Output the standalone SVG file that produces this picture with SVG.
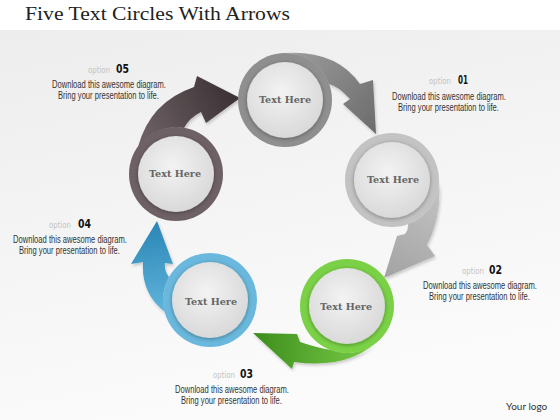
<svg xmlns="http://www.w3.org/2000/svg" width="560" height="420" viewBox="0 0 560 420">
<defs>
<style>
.title{font-family:"Liberation Serif",serif;font-size:19px;fill:#222}
.th{font-family:"DejaVu Serif",serif;font-weight:bold;font-size:9.5px;fill:#666}
.opt{font-family:"DejaVu Sans Condensed","DejaVu Sans",sans-serif;font-stretch:condensed;font-size:9px;fill:#c4c4c4}
.num{font-family:"DejaVu Sans Condensed","DejaVu Sans",sans-serif;font-stretch:condensed;font-weight:bold;font-size:13px;fill:#111}
.desc{font-family:"Liberation Sans",Arial,sans-serif;font-size:10px;fill:#333}
.logo{font-family:Lato,"Liberation Sans",sans-serif;font-size:10px;fill:#333}
.inner{fill:url(#gIn);filter:url(#sh)}
</style>
<linearGradient id="bg" x1="0" y1="0" x2="0.3" y2="1">
<stop offset="0" stop-color="#ededed"/><stop offset="1" stop-color="#fbfbfb"/>
</linearGradient>
<radialGradient id="gIn" cx="0.45" cy="0.4" r="0.6">
<stop offset="0" stop-color="#f3f3f3"/><stop offset="1" stop-color="#d9d9d9"/>
</radialGradient>
<filter id="sh" x="-20%" y="-20%" width="140%" height="140%">
<feDropShadow dx="0" dy="1" stdDeviation="2" flood-color="#000" flood-opacity="0.35"/>
</filter>
<filter id="ash" x="-20%" y="-20%" width="140%" height="140%">
<feDropShadow dx="1" dy="2" stdDeviation="1.5" flood-color="#000" flood-opacity="0.2"/>
</filter>
<linearGradient id="a1" x1="285" y1="60" x2="375" y2="130" gradientUnits="userSpaceOnUse">
<stop offset="0" stop-color="#9c9c9c"/><stop offset="1" stop-color="#6c6c6c"/>
</linearGradient>
<linearGradient id="a2" x1="440" y1="185" x2="390" y2="275" gradientUnits="userSpaceOnUse">
<stop offset="0" stop-color="#c4c4c4"/><stop offset="1" stop-color="#a4a4a4"/>
</linearGradient>
<linearGradient id="a3" x1="385" y1="340" x2="255" y2="340" gradientUnits="userSpaceOnUse">
<stop offset="0" stop-color="#7fd24a"/><stop offset="1" stop-color="#3e8e1e"/>
</linearGradient>
<linearGradient id="a4" x1="165" y1="310" x2="155" y2="222" gradientUnits="userSpaceOnUse">
<stop offset="0" stop-color="#5fb3da"/><stop offset="1" stop-color="#2a86b6"/>
</linearGradient>
<linearGradient id="a5" x1="150" y1="140" x2="240" y2="98" gradientUnits="userSpaceOnUse">
<stop offset="0" stop-color="#6a5e62"/><stop offset="1" stop-color="#3a3033"/>
</linearGradient>
</defs>
<rect x="0" y="0" width="560" height="420" fill="#ffffff"/>
<rect x="0" y="30" width="560" height="390" fill="url(#bg)"/>
<text class="title" x="25" y="20" textLength="265" lengthAdjust="spacingAndGlyphs">Five Text Circles With Arrows</text>

<g id="connectors" filter="url(#ash)">
<path id="arrow1" fill="url(#a1)" d="M285,53 Q336,50 360,84 L373,80 L376,134 L343,104 L350,99 Q338,86 329,84 A47,47 0 0 0 285,53 Z"/>
<path id="arrow2" fill="url(#a2)" d="M439,180 Q442,216 427,245 L435,256 L384,278 L397,236 L405,234 Q409,229 408,224 A47,47 0 0 0 439,180 Z"/>
<path id="arrow3" fill="url(#a3)" d="M383,336 Q352,370 294,362 L292,369 L253,333 L297,334 L300,342 Q318,348 331,350 A47,47 0 0 0 383,336 Z"/>
<path id="arrow4" fill="url(#a4)" d="M165,312 Q141,294 143,262 L131,264 L157,221 L173,264 L165,263 Q164,271 169,277 A47,47 0 0 0 165,312 Z"/>
<path id="arrow5" fill="url(#a5)" d="M138,147 Q150,102 194,87 L197,76 L240,98 L206,123 L201,112 Q189,118 184,128 A47,47 0 0 0 138,147 Z"/>
</g>

<g id="node1">
<circle cx="285" cy="100" r="47" fill="#8f8f8f"/>
<circle class="inner" cx="285" cy="100" r="38"/>
<text class="th" x="285" y="103" text-anchor="middle" textLength="52" lengthAdjust="spacingAndGlyphs">Text Here</text>
</g>
<g id="node2">
<circle cx="392" cy="180" r="47" fill="#c3c3c3"/>
<circle class="inner" cx="392" cy="180" r="38"/>
<text class="th" x="393" y="183" text-anchor="middle" textLength="52" lengthAdjust="spacingAndGlyphs">Text Here</text>
</g>
<g id="node3">
<circle cx="347" cy="306" r="47" fill="#7ad146"/>
<circle class="inner" cx="347" cy="306" r="38"/>
<text class="th" x="346" y="310" text-anchor="middle" textLength="52" lengthAdjust="spacingAndGlyphs">Text Here</text>
</g>
<g id="node4">
<circle cx="210" cy="300" r="47" fill="#6ab8dd"/>
<circle class="inner" cx="210" cy="300" r="38"/>
<text class="th" x="211" y="305" text-anchor="middle" textLength="52" lengthAdjust="spacingAndGlyphs">Text Here</text>
</g>
<g id="node5">
<circle cx="176" cy="174" r="47" fill="#6e6165"/>
<circle class="inner" cx="176" cy="174" r="38"/>
<text class="th" x="175" y="177" text-anchor="middle" textLength="52" lengthAdjust="spacingAndGlyphs">Text Here</text>
</g>

<g id="label1">
<text class="opt" x="429" y="84" textLength="22" lengthAdjust="spacingAndGlyphs">option</text>
<text class="num" x="458" y="84" textLength="10" lengthAdjust="spacingAndGlyphs">01</text>
<text class="desc" transform="translate(392,100) scale(0.76,1)">Download this awesome diagram.</text>
<text class="desc" transform="translate(398,111) scale(0.76,1)">Bring your presentation to life.</text>
</g>
<g id="label2">
<text class="opt" x="462" y="274" textLength="22" lengthAdjust="spacingAndGlyphs">option</text>
<text class="num" x="489" y="274" textLength="13" lengthAdjust="spacingAndGlyphs">02</text>
<text class="desc" transform="translate(423,289) scale(0.76,1)">Download this awesome diagram.</text>
<text class="desc" transform="translate(429,300) scale(0.76,1)">Bring your presentation to life.</text>
</g>
<g id="label3">
<text class="opt" x="213" y="378" textLength="22" lengthAdjust="spacingAndGlyphs">option</text>
<text class="num" x="240" y="378" textLength="13" lengthAdjust="spacingAndGlyphs">03</text>
<text class="desc" transform="translate(175,393) scale(0.76,1)">Download this awesome diagram.</text>
<text class="desc" transform="translate(181,404) scale(0.76,1)">Bring your presentation to life.</text>
</g>
<g id="label4">
<text class="opt" x="49" y="228" textLength="22" lengthAdjust="spacingAndGlyphs">option</text>
<text class="num" x="78" y="228" textLength="13" lengthAdjust="spacingAndGlyphs">04</text>
<text class="desc" transform="translate(13,243) scale(0.76,1)">Download this awesome diagram.</text>
<text class="desc" transform="translate(19,254) scale(0.76,1)">Bring your presentation to life.</text>
</g>
<g id="label5">
<text class="opt" x="88" y="73" textLength="22" lengthAdjust="spacingAndGlyphs">option</text>
<text class="num" x="116" y="73" textLength="13" lengthAdjust="spacingAndGlyphs">05</text>
<text class="desc" transform="translate(52,88) scale(0.76,1)">Download this awesome diagram.</text>
<text class="desc" transform="translate(58,99) scale(0.76,1)">Bring your presentation to life.</text>
</g>
<text class="logo" x="506" y="410">Your logo</text>
</svg>
